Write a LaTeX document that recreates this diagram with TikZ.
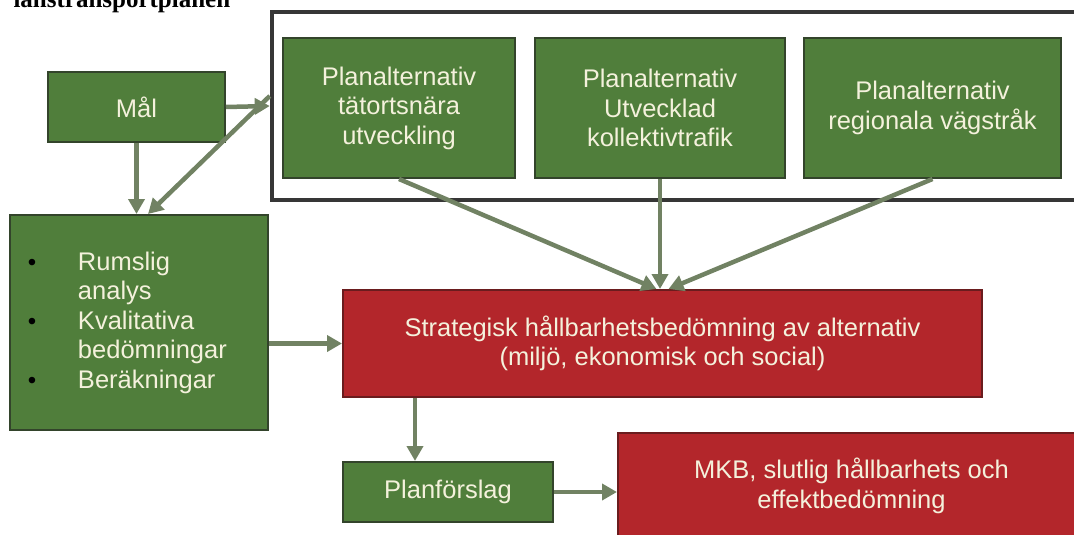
\documentclass[tikz,border=0pt]{standalone}
\usepackage{fontspec}
\setmainfont{Liberation Sans}
\newfontfamily\titlefont{Liberation Serif}
\usetikzlibrary{positioning,arrows.meta}

\definecolor{boxgreen}{HTML}{507E3B}
\definecolor{greenline}{HTML}{33442B}
\definecolor{boxred}{HTML}{B3262B}
\definecolor{redline}{HTML}{6A1C1E}
\definecolor{arrowgray}{HTML}{718263}
\definecolor{textcream}{HTML}{F4F1DC}
\definecolor{framegray}{HTML}{363636}

\newcommand{\itembullet}{\makebox[51pt][l]{\hspace{1pt}\textcolor{black}{\fontsize{24}{24}\selectfont\textbullet}}}

\tikzset{
  greenbox/.style={draw=greenline,line width=2pt,fill=boxgreen,text=textcream,
    inner sep=0pt,align=center,font=\fontsize{25.5}{29.5}\selectfont},
  redbox/.style={greenbox,draw=redline,fill=boxred},
  frame/.style={draw=framegray,line width=4.5pt,inner sep=0pt},
  arr/.style={color=arrowgray,line width=4.5pt,-{Triangle[length=15pt,width=16pt]}}
}

\begin{document}
\begin{tikzpicture}[x=1pt,y=-1pt]
\useasboundingbox (0,0) rectangle (1074,535);
\node[anchor=base west,font=\titlefont\bfseries\fontsize{25}{25}\selectfont] (title) at (10,8) {länstransportplanen};
\node[greenbox,minimum width=177,minimum height=70]	(mal)	at (136.5,107)	{Mål};
\node[frame,minimum width=818,minimum height=188]	(alts)	at (681,106)	{};
\node[greenbox,minimum width=232,minimum height=140]	(alt1)	at (399,108)	{Planalternativ\\tätortsnära\\utveckling};
\node[greenbox,minimum width=250,minimum height=140]	(alt2)	[right=18pt of alt1]	{Planalternativ\\Utvecklad\\kollektivtrafik};
\node[greenbox,minimum width=257,minimum height=140]	(alt3)	[right=17pt of alt2]	{Planalternativ\\regionala vägstråk};
\node[greenbox,text width=224,inner xsep=17,align=left,minimum height=215]	(rum)	at (139,322.5)
	{\itembullet Rumslig\\\hspace*{51pt}analys\\\itembullet Kvalitativa\\\hspace*{51pt}bedömningar\\\itembullet Beräkningar};
\node[redbox,minimum width=639,minimum height=107]	(strat)	at (662.5,343.5)	{Strategisk hållbarhetsbedömning av alternativ\\(miljö, ekonomisk och social)};
\node[greenbox,minimum width=210,minimum height=60]	(plan)	at (448,492)	{Planförslag};
\node[redbox,minimum width=467,minimum height=106]	(mkb)	at (851.5,486)	{MKB, slutlig hållbarhets och\\effektbedömning};
\path[arr]	(mal.east)	edge	(alts.west)
		(mal.south)	edge	(mal.south |- rum.north)
		([yshift=10pt]alts.west)	edge	([xshift=9pt]rum.north)
		(alt1.south)	edge	([xshift=-6pt]strat.north)
		(alt2.south)	edge	(alt2.south |- strat.north)
		(alt3.south)	edge	([xshift=6pt]strat.north)
		(rum.east |- strat.west)	edge	(strat.west)
		([xshift=-33pt]plan.north |- strat.south)	edge	([xshift=-33pt]plan.north)
		(plan.east)	edge	(mkb.west |- plan.east);
\end{tikzpicture}
\end{document}
